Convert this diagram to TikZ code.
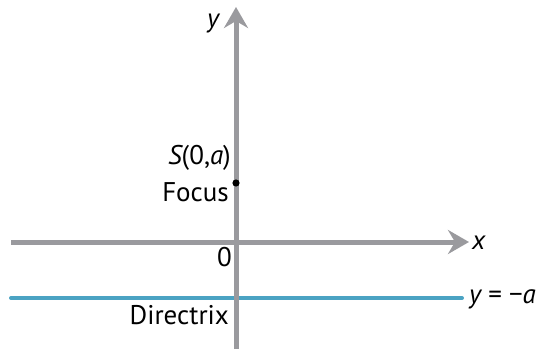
\documentclass[tikz,border=0pt]{standalone}
\usepackage{fontspec}
\setmainfont{PT Sans}
\usetikzlibrary{arrows.meta}
\definecolor{axisgray}{HTML}{9A9A9E}
\definecolor{dirblue}{HTML}{4BA3C3}
\tikzset{
  axis/.style={draw=axisgray, line width=5pt, -{Stealth[length=21pt, width=24pt, inset=7pt]}},
  dirline/.style={draw=dirblue, line width=4pt, line cap=round},
  lbl/.style={font=\fontsize{27}{30}\selectfont, inner sep=0pt}
}
\begin{document}
\begin{tikzpicture}[x=1pt,y=1pt]
\useasboundingbox (0,0) rectangle (539,349);
\coordinate (ybot) at (236,0);
\coordinate (ytop) at (236,342);
\coordinate (xl) at (11,107);
\coordinate (xr) at (469,107);
\coordinate (dl) at (11,51);
\coordinate (dr) at (462,51);
\draw[dirline] (dl) -- (dr);
\draw[axis, line cap=butt] (ybot) -- (ytop);
\draw[axis] (xl) -- (xr);
\fill (236,166) circle (3.6pt) coordinate (S);
\node[lbl, anchor=center] (ylab) at (213,325) {\itshape y};
\node[lbl, anchor=east] (slab) at (231,191) {\itshape S\upshape(0,\itshape a\upshape)};
\node[lbl, anchor=east] (focus) at (229,157) {Focus};
\node[lbl, anchor=east] (zero) at (232,92) {0};
\node[lbl, anchor=west] (xlab) at (472,106) {\itshape x};
\node[lbl, anchor=west] (ylabel) at (469,50) {\itshape y\upshape\ = −\itshape a};
\node[lbl, anchor=east] (dirx) at (229,34) {Directrix};
\end{tikzpicture}
\end{document}
